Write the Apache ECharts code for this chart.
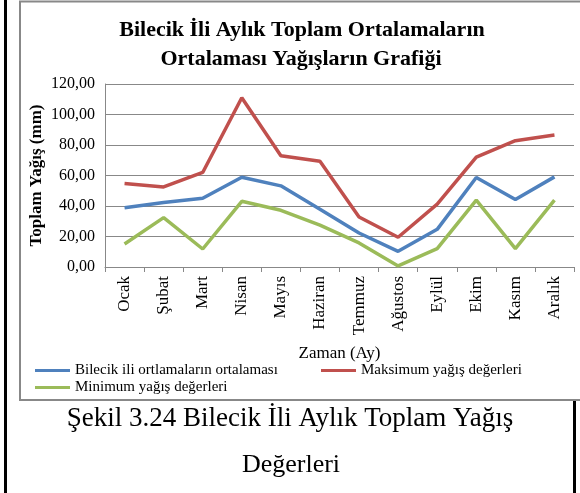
<!DOCTYPE html>
<html>
<head>
<meta charset="utf-8">
<script src="https://cdn.jsdelivr.net/npm/echarts@6/dist/echarts.min.js"></script>
<style>
  html, body { margin: 0; padding: 0; background: #fff; }
  #chart { width: 580px; height: 493px; }
</style>
</head>
<body>
<div id="chart"></div>
<script>
// aylar
const months = ["Ocak", "Şubat", "Mart", "Nisan", "Mayıs", "Haziran", "Temmuz", "Ağustos", "Eylül", "Ekim", "Kasım", "Aralık"];
// yağış (mm)
const ortalama = [38.8, 42.3, 45.1, 58.9, 53.2, 37.9, 22.3, 10.3, 24.7, 58.7, 44.2, 59.1];
const maksimum = [54.7, 52.5, 62.0, 111.0, 72.9, 69.4, 32.8, 19.5, 41.2, 72.0, 82.8, 86.5];
const minimum = [15.1, 32.4, 11.8, 43.1, 37.2, 27.4, 15.8, 0.7, 12.0, 43.8, 12.0, 43.8];

const serif = "Liberation Serif";

function legendAt(name, left, top) {
  return {
    data: [name],
    left: left, top: top, padding: 0,
    itemWidth: 35, itemHeight: 3, icon: "rect",
    textStyle: { fontFamily: serif, fontSize: 15, color: "#000" }
  };
}

const chart = echarts.init(document.getElementById("chart"));
chart.setOption({
  animation: false,
  graphic: [
    // dış çerçeve
    { type: "line", shape: { x1: 5.5, y1: 0, x2: 5.5, y2: 493 }, style: { stroke: "#000", lineWidth: 3 } },
    { type: "line", shape: { x1: 574.5, y1: 400, x2: 574.5, y2: 493 }, style: { stroke: "#000", lineWidth: 3 } },
    { type: "rect", shape: { x: 20, y: 1.5, width: 600, height: 398.5 }, style: { fill: "none", stroke: "#888", lineWidth: 2 } },
    // başlık
    { type: "text", x: 302, y: 30, style: { text: "Bilecik İli Aylık Toplam Ortalamaların", font: "bold 22px " + serif, fill: "#000", align: "center", verticalAlign: "middle" } },
    { type: "text", x: 301, y: 59, style: { text: "Ortalaması Yağışların Grafiği", font: "bold 22px " + serif, fill: "#000", align: "center", verticalAlign: "middle" } },
    // şekil altyazısı
    { type: "text", x: 290, y: 419, style: { text: "Şekil 3.24 Bilecik İli Aylık Toplam Yağış", font: "27px " + serif, fill: "#000", align: "center", verticalAlign: "middle" } },
    { type: "text", x: 291, y: 465, style: { text: "Değerleri", font: "26px " + serif, fill: "#000", align: "center", verticalAlign: "middle" } }
  ],
  legend: [
    legendAt("Bilecik ili ortlamaların ortalaması", 35, 363),
    legendAt("Maksimum yağış değerleri", 321, 363),
    legendAt("Minimum yağış değerleri", 35, 380)
  ],
  grid: { left: 105, right: 6, top: 84, bottom: 226 },
  xAxis: {
    type: "category",
    data: months,
    boundaryGap: true,
    name: "Zaman (Ay)",
    nameLocation: "middle",
    nameGap: 78,
    nameTextStyle: { fontFamily: serif, fontSize: 17, color: "#000" },
    axisLine: { lineStyle: { color: "#888", width: 1 } },
    axisTick: { show: true, length: 5, lineStyle: { color: "#888" } },
    axisLabel: { rotate: 90, margin: 9, fontFamily: serif, fontSize: 17, color: "#000", interval: 0 }
  },
  yAxis: {
    type: "value",
    min: 0,
    max: 120,
    interval: 20,
    name: "Toplam Yağış (mm)",
    nameLocation: "middle",
    nameGap: 60,
    nameMoveOverlap: false,
    nameTextStyle: { fontFamily: serif, fontSize: 17, fontWeight: "bold", color: "#000" },
    axisLine: { show: true, lineStyle: { color: "#888", width: 1 } },
    axisTick: { show: false },
    splitLine: { lineStyle: { color: "#888", width: 1 } },
    axisLabel: {
      margin: 10, fontFamily: serif, fontSize: 16, color: "#000",
      formatter: v => v.toFixed(2).replace(".", ",")
    }
  },
  series: [
    { name: "Bilecik ili ortlamaların ortalaması", type: "line", data: ortalama, symbol: "none", color: "#4F81BD", lineStyle: { width: 3.5 } },
    { name: "Maksimum yağış değerleri", type: "line", data: maksimum, symbol: "none", color: "#C0504D", lineStyle: { width: 3.5 } },
    { name: "Minimum yağış değerleri", type: "line", data: minimum, symbol: "none", color: "#9BBB59", lineStyle: { width: 3.5 } }
  ]
});
</script>
</body>
</html>
